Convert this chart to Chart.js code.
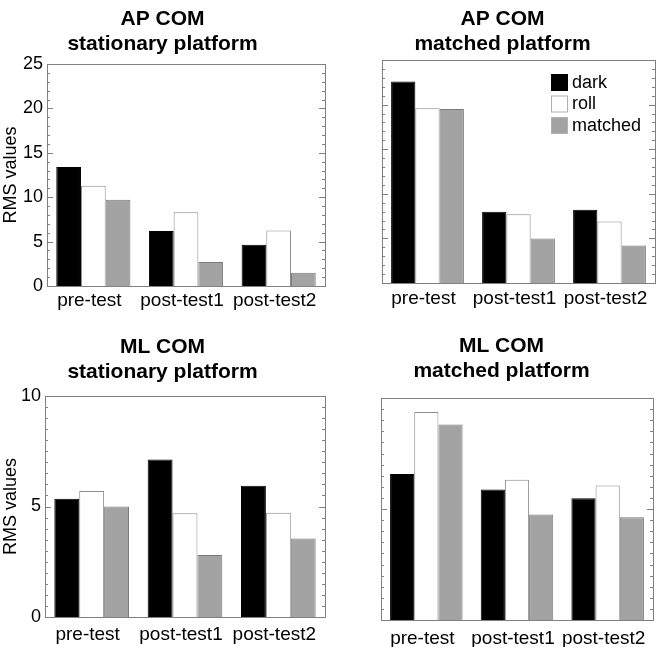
<!DOCTYPE html>
<html>
<head>
<meta charset="utf-8">
<script src="https://cdn.jsdelivr.net/npm/chart.js@4.4.0/dist/chart.umd.min.js"></script>
<style>
body { margin: 0; background: #fff; width: 666px; height: 647px; position: relative; overflow: hidden; }
canvas { position: absolute; }
</style>
</head>
<body>
<canvas id="c1"></canvas>
<canvas id="c2"></canvas>
<canvas id="c3"></canvas>
<canvas id="c4"></canvas>
<script>
// categories and series
const tests = ["pre-test", "post-test1", "post-test2"];
const seriesNames = ["dark", "roll", "matched"];

const apStatDark = [13.4, 6.2, 4.65];
const apStatRoll = [11.3, 8.3, 6.25];
const apStatMatched = [9.7, 2.7, 1.5];

const apMatchDark = [22.6, 8.0, 8.2];
const apMatchRoll = [19.6, 7.7, 6.9];
const apMatchMatched = [19.5, 5.0, 4.2];

const mlStatDark = [5.35, 7.13, 5.94];
const mlStatRoll = [5.7, 4.7, 4.72];
const mlStatMatched = [5.0, 2.8, 3.55];

const mlMatchDark = [6.58, 5.88, 5.48];
const mlMatchRoll = [9.37, 6.32, 6.06];
const mlMatchMatched = [8.81, 4.75, 4.63];

const FONT = "'Liberation Sans', Arial, Helvetica, sans-serif";
const AXIS = "#808080";

const fills = ["#000000", "#ffffff", "#a3a3a3"];
const edges = ["#000000", "#8c8c8c", "#7a7a7a"];

// frame + inward ticks on both sides, like the original plot
const framePlugin = {
  id: "frame",
  afterDraw(chart) {
    const ctx = chart.ctx;
    const a = chart.chartArea;
    const y = chart.scales.y;
    const o = chart.options.plugins.frame;
    ctx.save();
    ctx.strokeStyle = AXIS;
    ctx.lineWidth = 1;
    ctx.strokeRect(Math.round(a.left) + 0.5, Math.round(a.top) + 0.5,
      Math.round(a.right - a.left), Math.round(a.bottom - a.top));
    ctx.beginPath();
    for (let v = y.min; v <= y.max + 1e-9; v += o.minor) {
      const major = Math.abs(v / 5 - Math.round(v / 5)) < 1e-9;
      const len = major ? 6 : 3;
      const py = Math.round(y.getPixelForValue(v)) + 0.5;
      ctx.moveTo(a.left, py); ctx.lineTo(a.left + len, py);
      ctx.moveTo(a.right, py); ctx.lineTo(a.right - len, py);
    }
    ctx.stroke();

    if (o.legend) {
      const bx = a.right - 104, by = a.top + 14;
      ctx.font = "18px " + FONT;
      ctx.textBaseline = "middle";
      chart.data.datasets.forEach((ds, i) => {
        const ty = by + i * 21.5;
        ctx.fillStyle = ds.backgroundColor;
        ctx.fillRect(bx, ty, 17, 17);
        ctx.strokeStyle = ds.borderColor === "#000000" ? "#000000" : "#b0b0b0";
        ctx.strokeRect(bx + 0.5, ty + 0.5, 16, 16);
        ctx.fillStyle = "#000";
        ctx.fillText(ds.label, bx + 21, ty + 9);
      });
    }
    ctx.restore();
  }
};

function makePanel(id, box, area, title, titlePad, dark, roll, matched, yMax, minor, showY, legend, xPad) {
  const cv = document.getElementById(id);
  cv.width = box.w; cv.height = box.h;
  cv.style.left = box.x + "px"; cv.style.top = box.y + "px";
  const vals = [dark, roll, matched];
  new Chart(cv, {
    type: "bar",
    data: {
      labels: tests,
      datasets: seriesNames.map((n, i) => ({
        label: n,
        data: vals[i],
        backgroundColor: fills[i],
        borderColor: edges[i],
        borderWidth: 1,
        categoryPercentage: 0.8,
        barPercentage: 1.0
      }))
    },
    options: {
      responsive: false,
      animation: false,
      devicePixelRatio: 1,
      layout: { padding: { left: 0, top: 0, right: box.x + box.w - area.r, bottom: 0 } },
      plugins: {
        legend: { display: false },
        tooltip: { enabled: false },
        title: {
          display: true,
          text: title,
          color: "#000",
          font: { family: FONT, size: 21, weight: "bold", lineHeight: 25 / 21 },
          padding: { top: titlePad, bottom: area.t - box.y - titlePad - 50 }
        },
        frame: { minor: minor, legend: legend }
      },
      scales: {
        x: {
          grid: { display: false, drawTicks: false },
          border: { display: false },
          ticks: { color: "#000", font: { family: FONT, size: 19 }, padding: xPad, labelOffset: -4, maxRotation: 0, autoSkip: false },
          afterFit(s) { s.height = box.y + box.h - area.b; }
        },
        y: {
          min: 0, max: yMax,
          grid: { display: false, drawTicks: false },
          border: { display: false },
          ticks: { display: showY, stepSize: 5, color: "#000", font: { family: FONT, size: 18 }, padding: 4 },
          title: { display: showY, text: "RMS values", color: "#000", font: { family: FONT, size: 18 }, padding: { top: 0, bottom: 0 } },
          afterFit(s) { s.width = area.l - box.x; }
        }
      }
    },
    plugins: [framePlugin]
  });
}

makePanel("c1", { x: 0, y: 0, w: 356, h: 323 }, { l: 47, t: 64, r: 325, b: 286 },
  ["AP COM", "stationary platform"], 7, apStatDark, apStatRoll, apStatMatched, 25, 1, true, false, 3);
makePanel("c2", { x: 350, y: 0, w: 316, h: 323 }, { l: 382, t: 60, r: 655, b: 283 },
  ["AP COM", "matched platform"], 7, apMatchDark, apMatchRoll, apMatchMatched, 25, 1, false, true, 4);
makePanel("c3", { x: 0, y: 323, w: 356, h: 324 }, { l: 45, t: 396, r: 325, b: 617 },
  ["ML COM", "stationary platform"], 12, mlStatDark, mlStatRoll, mlStatMatched, 10, 0.5, true, false, 6);
makePanel("c4", { x: 350, y: 323, w: 316, h: 324 }, { l: 381, t: 398, r: 653, b: 620 },
  ["ML COM", "matched platform"], 11, mlMatchDark, mlMatchRoll, mlMatchMatched, 10, 0.5, false, false, 7);
</script>
</body>
</html>
